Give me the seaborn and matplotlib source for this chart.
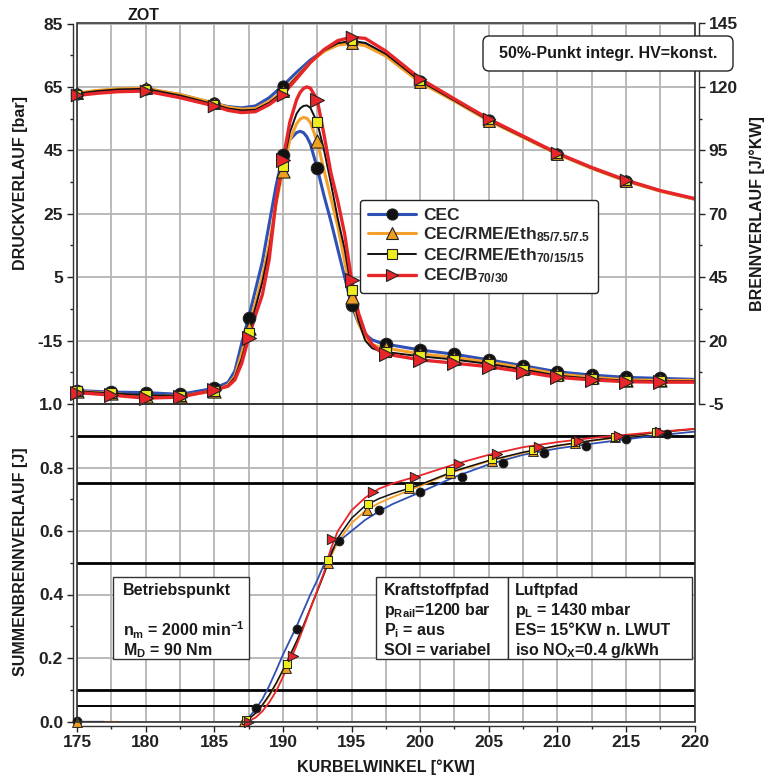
import numpy as np
import pandas as pd
import matplotlib
matplotlib.use("Agg")
import matplotlib.pyplot as plt
import seaborn as sns
from matplotlib.lines import Line2D
from matplotlib.patches import Rectangle, FancyBboxPatch
from matplotlib.ticker import MultipleLocator, FixedLocator

# ---------------- data ----------------
series_names = ["CEC", "CEC/RME/Eth$_{85/7.5/7.5}$", "CEC/RME/Eth$_{70/15/15}$", "CEC/B$_{70/30}$"]

# cylinder pressure [bar] (left axis, top panel)
x_p = [175, 176.5, 178, 180, 182.5, 185, 186, 187, 188, 189, 190, 191, 192, 193, 194, 195,
       196, 197.5, 200, 202.5, 205, 207.5, 210, 212.5, 215, 217.5, 220]
p_cec = [62.9, 63.7, 64.2, 64.4, 62.6, 59.8, 58.8, 58.4, 59.0, 61.6, 65.4, 69.6, 73.5, 76.5, 78.4, 79.1,
         78.6, 75.0, 66.8, 60.7, 54.5, 49.2, 43.9, 39.4, 35.4, 32.2, 29.6]
p_rme85 = [63.1, 63.9, 64.4, 64.6, 62.6, 59.9, 58.6, 58.0, 58.2, 60.4, 63.6, 68.2, 72.8, 76.2, 78.2, 78.7,
           78.0, 74.7, 66.4, 60.5, 54.3, 49.1, 43.8, 39.3, 35.3, 32.1, 29.6]
p_rme70 = [62.9, 63.7, 64.2, 64.4, 62.3, 59.5, 58.2, 57.6, 57.8, 60.0, 63.3, 68.1, 72.9, 76.5, 78.8, 79.5,
           78.9, 75.4, 66.9, 60.7, 54.5, 49.2, 43.9, 39.4, 35.4, 32.2, 29.7]
p_b30 = [62.3, 63.0, 63.5, 63.7, 61.6, 59.0, 57.6, 56.9, 57.2, 59.4, 62.6, 67.6, 72.7, 76.8, 79.6, 80.7,
         80.3, 76.3, 67.6, 61.2, 54.9, 49.5, 44.1, 39.6, 35.6, 32.3, 29.8]

# heat release rate [J/°KW] (right axis, top panel)
x_hr = [175, 177.5, 180, 182.5, 185, 186, 186.5, 187, 187.5, 188, 188.5, 189, 189.5, 190,
        190.5, 191, 191.25, 191.5, 191.75, 192, 192.5, 193, 193.5, 194, 194.5, 195,
        195.5, 196, 196.5, 197, 197.5, 200, 202.5, 205, 207.5, 210, 212.5, 215, 217.5, 220]
hr_cec = [0.3, -0.3, -0.5, -1.2, 1.2, 3.5, 8, 19, 29, 40, 51, 66, 81, 93,
          99.2, 102.0, 102.5, 102.0, 100.3, 97.5, 88, 77, 67, 56, 45, 34,
          27, 22.5, 20.3, 19.3, 18.6, 16.3, 14.6, 12.4, 10.1, 7.7, 6.4, 5.5, 5.1, 4.7]
hr_rme85 = [0, -0.8, -2, -1.8, 0, 2.5, 6, 15, 25, 35, 45, 58, 74, 87,
            99, 105.5, 107.3, 108.0, 107.6, 106, 98.5, 87, 76, 65, 51, 37,
            27, 21, 18.5, 17.5, 17, 14.8, 13.3, 11.5, 9.3, 6.8, 5.5, 4.5, 4.3, 4.3]
hr_rme70 = [0, -0.8, -1.5, -1.8, 0.2, 2.2, 5.5, 13, 23, 33, 43, 56, 74, 89,
            102, 109.5, 111.5, 112.5, 112.7, 111.8, 106, 95, 82, 68, 56, 40,
            28, 20, 17, 16, 15.5, 13.8, 12.5, 10.8, 8.6, 6.2, 5.0, 4.2, 4.0, 4.0]
hr_b30 = [-0.5, -1.5, -2.7, -2.3, 0.5, 2, 4.5, 11, 21, 30, 38, 52, 75, 91,
          106, 115, 117.8, 119.4, 120.0, 119.5, 115, 101, 86, 75, 62, 44,
          31, 23, 18.5, 16, 14.7, 12.4, 11.1, 9.7, 7.7, 5.5, 4.5, 3.8, 3.6, 3.6]

# cumulative heat release (bottom panel)
x_cum = [187, 187.5, 188, 188.5, 189, 189.5, 190, 190.5, 191, 191.5, 192, 192.5, 193, 193.5,
         194, 195, 196, 197, 198, 200, 202.5, 205, 207.5, 210, 212.5, 215, 217.5, 220]
cum_cec = [0.0, 0.012, 0.038, 0.07, 0.112, 0.16, 0.21, 0.255, 0.3, 0.35, 0.4, 0.445, 0.495, 0.535,
           0.565, 0.6, 0.635, 0.662, 0.685, 0.722, 0.77, 0.81, 0.84, 0.86, 0.875, 0.889, 0.902, 0.913]
cum_rme85 = [0.0, 0.008, 0.025, 0.05, 0.08, 0.118, 0.16, 0.205, 0.25, 0.3, 0.355, 0.41, 0.465, 0.52,
             0.565, 0.625, 0.663, 0.688, 0.707, 0.742, 0.787, 0.82, 0.846, 0.868, 0.884, 0.898, 0.911, 0.921]
cum_rme70 = [0.0, 0.008, 0.026, 0.052, 0.083, 0.12, 0.162, 0.207, 0.253, 0.303, 0.357, 0.41, 0.465, 0.525,
             0.578, 0.64, 0.68, 0.702, 0.718, 0.746, 0.789, 0.822, 0.848, 0.869, 0.885, 0.899, 0.912, 0.921]
cum_b30 = [0.0, 0.002, 0.012, 0.032, 0.06, 0.095, 0.14, 0.188, 0.24, 0.296, 0.355, 0.413, 0.47, 0.545,
           0.6, 0.665, 0.705, 0.733, 0.75, 0.775, 0.81, 0.84, 0.864, 0.88, 0.893, 0.903, 0.913, 0.922]
lead_x_cec = [175, 177]
lead_x_rme85 = [175, 178]
lead_y = [0.0, 0.0]

# marker points of the cumulative curves
mk_cec_x = [175, 188.05, 191.0, 194.1, 197.0, 200.0, 203.06, 206.0, 209.0, 212.1, 215.0, 218.0]
mk_cec_y = [0.003, 0.042, 0.29, 0.569, 0.666, 0.724, 0.771, 0.813, 0.847, 0.869, 0.889, 0.905]
mk_rme85_x = [175, 187.2, 190.25, 193.3, 196.1, 199.2, 202.2, 205.25, 208.25, 211.3, 214.2, 217.2]
mk_rme85_y = [0.0, 0.003, 0.17, 0.5, 0.667, 0.735, 0.784, 0.822, 0.853, 0.878, 0.895, 0.911]
mk_rme70_x = [187.3, 190.3, 193.3, 196.2, 199.2, 202.2, 205.25, 208.25, 211.3, 214.2, 217.2]
mk_rme70_y = [0.005, 0.18, 0.51, 0.684, 0.74, 0.788, 0.826, 0.856, 0.88, 0.897, 0.912]
mk_b30_x = [187.5, 190.7, 193.6, 196.6, 199.65, 202.8, 205.6, 208.65, 211.6, 214.5, 217.5]
mk_b30_y = [0.0, 0.205, 0.575, 0.722, 0.769, 0.81, 0.842, 0.866, 0.884, 0.90, 0.913]

ref_levels = [0.05, 0.1, 0.5, 0.75, 0.9]

# ---------------- styles ----------------
line_colors = ["#2f50b4", "#f5a02a", "#111111", "#e8262a"]
marker_shapes = ["o", "^", "s", ">"]
marker_faces = ["#111111", "#f0a020", "#ecec1e", "#e8262a"]
line_widths_top = [2.2, 2.2, 1.4, 2.4]
line_widths_bot = [1.3, 1.3, 1.1, 1.3]
marker_sizes = [80, 90, 45, 100]

sns.set_style("ticks")
plt.rcParams["font.family"] = ["Liberation Sans", "DejaVu Sans"]
plt.rcParams["font.weight"] = "bold"
plt.rcParams["mathtext.fontset"] = "custom"
plt.rcParams["mathtext.rm"] = "Liberation Sans:bold"
plt.rcParams["mathtext.it"] = "Liberation Sans:bold"
plt.rcParams["mathtext.bf"] = "Liberation Sans:bold"
plt.rcParams["mathtext.sf"] = "Liberation Sans:bold"
plt.rcParams["axes.unicode_minus"] = False

W, H = 768, 780
fig = plt.figure(figsize=(W / 100, H / 100), dpi=100)

def fx(px):
    return px / W

def fy(py):
    return 1 - py / H

left, right = 77, 694.7
top_t, mid, bot = 23.5, 404, 721.5
ax = fig.add_axes([fx(left), fy(mid), fx(right - left), fy(top_t) - fy(mid)])
axb = fig.add_axes([fx(left), fy(bot), fx(right - left), fy(mid) - fy(bot)])
ax2 = ax.twinx()

grid_kw = dict(color="#b4b4b4", lw=1.3)
tick_fs = 12.5

def unclip(a):
    a.collections[-1].set_clip_on(False)

# ---------- top panel: pressure ----------
p_list = [p_cec, p_rme85, p_rme70, p_b30]
hr_list = [hr_cec, hr_rme85, hr_rme70, hr_b30]
xp = np.array(x_p, dtype=float)
xh = np.array(x_hr, dtype=float)
pmask = (np.mod(xp, 5) == 0) & (xp < 220)
hmask = (np.mod(xh, 2.5) == 0) & (xh < 220)
for i in range(4):
    sns.lineplot(x=xp, y=p_list[i], ax=ax, color=line_colors[i], lw=line_widths_top[i],
                 sort=False, estimator=None, zorder=3 + i)
    sns.scatterplot(x=xp[pmask], y=np.array(p_list[i])[pmask], ax=ax, marker=marker_shapes[i],
                    s=marker_sizes[i] * 0.8, color=marker_faces[i], edgecolor="#222222",
                    linewidth=0.8, zorder=7 + i)
    unclip(ax)
for i in range(4):
    sns.lineplot(x=xh, y=hr_list[i], ax=ax2, color=line_colors[i], lw=line_widths_top[i],
                 sort=False, estimator=None, zorder=3 + i)
    sns.scatterplot(x=xh[hmask], y=np.array(hr_list[i])[hmask], ax=ax2, marker=marker_shapes[i],
                    s=marker_sizes[i], color=marker_faces[i], edgecolor="#222222",
                    linewidth=0.8, zorder=7 + i)
    unclip(ax2)

ax.set_xlim(175, 220)
ax.set_ylim(-35, 85)
ax2.set_ylim(-5, 145)
ax.yaxis.set_major_locator(FixedLocator([-15, 5, 25, 45, 65, 85]))
ax.yaxis.set_minor_locator(FixedLocator([-25, -5, 15, 35, 55, 75]))
ax2.set_yticks([-5, 20, 45, 70, 95, 120, 145])
ax2.yaxis.set_minor_locator(FixedLocator([7.5, 32.5, 57.5, 82.5, 107.5, 132.5]))
ax.xaxis.set_major_locator(MultipleLocator(5))
ax.xaxis.set_minor_locator(MultipleLocator(2.5))
ax.grid(False)
ax2.grid(False)
ax.xaxis.grid(True, which="both", **grid_kw)
ax.yaxis.grid(True, which="major", **grid_kw)
ax.set_axisbelow(True)
ax.tick_params(axis="x", which="both", length=0, labelbottom=False)
ax2.tick_params(axis="x", which="both", length=0, labelbottom=False)
ax.set_xlabel("")
ax.set_ylabel("")
ax2.set_ylabel("")

for a in (ax, ax2):
    for s in a.spines.values():
        s.set_visible(False)
ax.spines["left"].set_visible(True)
ax.spines["left"].set_position(("outward", 3))
ax2.spines["right"].set_visible(True)
ax2.spines["right"].set_position(("outward", 3))
for s in (ax.spines["left"], ax2.spines["right"]):
    s.set_linewidth(1.0)
    s.set_color("#333333")
ax.tick_params(axis="y", which="major", length=4, width=1, labelsize=tick_fs, pad=3, colors="#222222")
ax.tick_params(axis="y", which="minor", length=2.5, width=1, colors="#222222")
ax2.tick_params(axis="y", which="major", length=4, width=1, labelsize=tick_fs, pad=3, colors="#222222")
ax2.tick_params(axis="y", which="minor", length=2.5, width=1, colors="#222222")
for lab in ax.get_yticklabels() + ax2.get_yticklabels():
    lab.set_fontweight("bold")
ax2.add_patch(Rectangle((0, 0), 1, 1, transform=ax2.transAxes, fill=False, ec="#333333",
                        lw=1.2, zorder=20, clip_on=False))

# legend
handles = [Line2D([], [], color=line_colors[i], lw=line_widths_top[i], marker=marker_shapes[i],
                  markerfacecolor=marker_faces[i], markeredgecolor="#222222",
                  markersize=[8, 9, 7, 9][i], markeredgewidth=0.8) for i in range(4)]
leg = ax2.legend(handles, series_names, loc="upper left",
                 bbox_to_anchor=(fx(360), fy(200)), bbox_transform=fig.transFigure,
                 borderaxespad=0, frameon=True, fancybox=True, handlelength=2.8,
                 handletextpad=0.4, labelspacing=0.12, borderpad=0.45,
                 prop={"size": 12.5, "weight": "bold"})
leg.get_frame().set_edgecolor("#222222")
leg.get_frame().set_linewidth(1.0)
leg.get_frame().set_alpha(1)
leg.set_zorder(30)

# ---------- bottom panel: cumulative ----------
cum_list = [cum_cec, cum_rme85, cum_rme70, cum_b30]
mkx = [mk_cec_x, mk_rme85_x, mk_rme70_x, mk_b30_x]
mky = [mk_cec_y, mk_rme85_y, mk_rme70_y, mk_b30_y]
for lv in ref_levels:
    axb.axhline(lv, color="black", lw=1.4 if lv == 0.05 else 2.0, zorder=2)
sns.lineplot(x=lead_x_rme85, y=lead_y, ax=axb, color=line_colors[1], lw=1.6, zorder=3)
sns.lineplot(x=lead_x_cec, y=lead_y, ax=axb, color=line_colors[0], lw=1.6, zorder=3)
for i in range(4):
    sns.lineplot(x=x_cum, y=cum_list[i], ax=axb, color=line_colors[i], lw=line_widths_bot[i],
                 sort=False, estimator=None, zorder=3 + i)
    sns.scatterplot(x=mkx[i], y=mky[i], ax=axb, marker=marker_shapes[i],
                    s=[40, 50, 30, 55][i], color=marker_faces[i], edgecolor="#222222",
                    linewidth=0.7, zorder=8 + i)
    unclip(axb)

axb.set_xlim(175, 220)
axb.set_ylim(0, 1.0)
axb.xaxis.set_major_locator(MultipleLocator(5))
axb.xaxis.set_minor_locator(MultipleLocator(2.5))
axb.yaxis.set_major_locator(MultipleLocator(0.2))
axb.yaxis.set_minor_locator(MultipleLocator(0.1))
axb.yaxis.set_major_formatter(matplotlib.ticker.FormatStrFormatter("%.1f"))
axb.grid(False)
axb.xaxis.grid(True, which="both", **grid_kw)
axb.yaxis.grid(True, which="major", **grid_kw)
axb.set_axisbelow(True)
axb.set_xlabel("")
axb.set_ylabel("")
for s in axb.spines.values():
    s.set_visible(False)
for side in ("left", "bottom"):
    axb.spines[side].set_visible(True)
    axb.spines[side].set_position(("outward", 3))
    axb.spines[side].set_linewidth(1.0)
    axb.spines[side].set_color("#333333")
axb.tick_params(axis="both", which="major", length=4, width=1, labelsize=tick_fs, pad=3, colors="#222222")
axb.tick_params(axis="both", which="minor", length=2.5, width=1, colors="#222222")
for lab in axb.get_xticklabels() + axb.get_yticklabels():
    lab.set_fontweight("bold")
axb.add_patch(Rectangle((0, 0), 1, 1, transform=axb.transAxes, fill=False, ec="#333333",
                        lw=1.2, zorder=20, clip_on=False))

# ---------- text boxes ----------
def fig_box(x0, y0, x1, y1, rounded=False):
    if rounded:
        p = FancyBboxPatch((fx(x0), fy(y1)), fx(x1 - x0), fy(y0) - fy(y1),
                           boxstyle="round,pad=0,rounding_size=0.008",
                           transform=fig.transFigure, fc="white", ec="#222222", lw=1.0, zorder=40)
    else:
        p = Rectangle((fx(x0), fy(y1)), fx(x1 - x0), fy(y0) - fy(y1),
                      transform=fig.transFigure, fc="white", ec="#333333", lw=1.0, zorder=40)
    fig.patches.append(p)

txt_kw = dict(fontsize=11.5, fontweight="bold", color="#1a1a1a", va="baseline", ha="left", zorder=50)

fig_box(113, 577, 249, 659)
fig.text(fx(123), fy(595), "Betriebspunkt", **txt_kw)
fig.text(fx(123), fy(636), "n$_{\\mathrm{m}}$ = 2000 min$^{\\mathrm{-1}}$", **txt_kw)
fig.text(fx(123), fy(655), "M$_{\\mathrm{D}}$ = 90 Nm", **txt_kw)

fig_box(376, 577, 508, 659)
fig_box(508, 577, 692, 659)
k_lines = ["Kraftstoffpfad", "p$_{\\mathrm{Rail}}$=1200 bar", "P$_{\\mathrm{i}}$ = aus", "SOI = variabel"]
l_lines = ["Luftpfad", "p$_{\\mathrm{L}}$ = 1430 mbar", "ES= 15°KW n. LWUT", "iso NO$_{\\mathrm{X}}$=0.4 g/kWh"]
for j in range(4):
    fig.text(fx(384), fy(595 + 20 * j), k_lines[j], **txt_kw)
    fig.text(fx(515), fy(595 + 20 * j), l_lines[j], **txt_kw)

fig_box(483, 36, 733, 71, rounded=True)
fig.text(fx(608), fy(53.5), "50%-Punkt integr. HV=konst.", fontsize=11.5, fontweight="bold",
         color="#1a1a1a", ha="center", va="center", zorder=50)

# ---------- labels ----------
lab_kw = dict(fontsize=11.5, fontweight="bold", color="#1a1a1a", ha="center", va="center")
fig.text(fx(143.5), fy(15), "ZOT", **lab_kw)
fig.text(fx(20.5), fy(183), "DRUCKVERLAUF [bar]", rotation=90, **lab_kw)
fig.text(fx(757), fy(214), "BRENNVERLAUF [J/°KW]", rotation=90, **lab_kw)
fig.text(fx(20.5), fy(562), "SUMMENBRENNVERLAUF [J]", rotation=90, **lab_kw)
fig.text(fx(385.5), fy(767), "KURBELWINKEL [°KW]", **lab_kw)

fig.savefig("out.png", dpi=100, facecolor="white")
